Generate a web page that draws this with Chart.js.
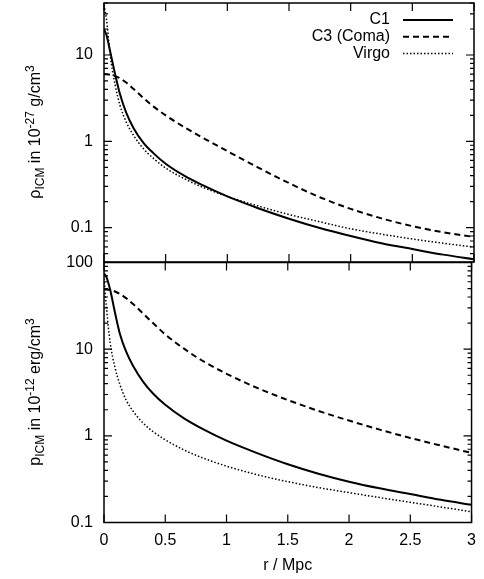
<!DOCTYPE html>
<html>
<head>
<meta charset="utf-8">
<script src="https://cdn.jsdelivr.net/npm/chart.js@4.4.1/dist/chart.umd.min.js"></script>
<style>
  body { margin: 0; background: #fff; }
  #wrap { position: relative; width: 484px; height: 579px; overflow: hidden; }
  canvas { position: absolute; left: 0; }
  #c_rho { top: 0; }
  #c_p { top: 250px; }
  .ytitle {
    position: absolute; left: 35px;
    transform: translate(-50%, -50%) rotate(-90deg);
    white-space: nowrap; color: #000;
    font: 16px 'Liberation Sans', Arial, sans-serif;
  }
  .ytitle sub, .ytitle sup { font-size: 12px; }
</style>
</head>
<body>
<div id="wrap">
  <canvas id="c_rho" width="484" height="266"></canvas>
  <canvas id="c_p" width="484" height="329"></canvas>
  <div class="ytitle" style="top:132px">ρ<sub>ICM</sub> in 10<sup>-27</sup> g/cm<sup>3</sup></div>
  <div class="ytitle" style="top:392px">p<sub>ICM</sub> in 10<sup>-12</sup> erg/cm<sup>3</sup></div>
</div>
<script>
// radius in Mpc
const radius = [0, 0.02, 0.05, 0.09, 0.13, 0.18, 0.24, 0.32, 0.4, 0.5, 0.65, 0.8, 1.0, 1.25, 1.5, 1.75, 2.0, 2.25, 2.5, 2.75, 3.0];

// density, 1e-27 g/cm^3
const rhoC1    = [20, 17, 11, 6.0, 3.5, 2.15, 1.42, 0.96, 0.73, 0.55, 0.40, 0.31, 0.23, 0.168, 0.127, 0.099, 0.080, 0.066, 0.0565, 0.0487, 0.043];
const rhoC3    = [6.0, 5.98, 5.9, 5.69, 5.37, 4.79, 4.03, 3.17, 2.54, 2.0, 1.46, 1.10, 0.77, 0.497, 0.328, 0.225, 0.165, 0.128, 0.104, 0.0885, 0.078];
const rhoVirgo = [38, 26, 10, 4.5, 2.6, 1.68, 1.17, 0.82, 0.635, 0.49, 0.37, 0.294, 0.23, 0.178, 0.142, 0.117, 0.097, 0.084, 0.074, 0.066, 0.0595];

// pressure, 1e-12 erg/cm^3
const pC1    = [75, 68, 48.7, 26.3, 15.0, 9.4, 6.3, 4.2, 3.08, 2.28, 1.6, 1.21, 0.88, 0.632, 0.47, 0.366, 0.296, 0.248, 0.213, 0.183, 0.16];
const pC3    = [49, 48.9, 48.2, 46.3, 43.4, 38.8, 32.9, 25.7, 20.0, 14.8, 10.2, 7.4, 5.2, 3.57, 2.59, 1.94, 1.50, 1.18, 0.945, 0.772, 0.635];
const pVirgo = [65, 30, 12, 6.1, 3.9, 2.6, 1.9, 1.4, 1.12, 0.9, 0.69, 0.56, 0.447, 0.356, 0.296, 0.253, 0.221, 0.194, 0.171, 0.151, 0.133];

const seriesNames = ['C1', 'C3 (Coma)', 'Virgo'];
const xTicks = [0, 0.5, 1, 1.5, 2, 2.5, 3];
const rhoTicks = [0.1, 1, 10];
const pTicks = [0.1, 1, 10, 100];

const lineDash = [[], [6, 4], [1.5, 2]];
const lineWidth = [2, 2, 1.5];

Chart.defaults.font.family = "'Liberation Sans', Arial, sans-serif";
Chart.defaults.font.size = 16;
Chart.defaults.color = '#000';

var makeSets = (arrays) => arrays.map((vals, i) => ({
  label: seriesNames[i],
  data: radius.map((r, k) => ({ x: r, y: vals[k] })),
  borderColor: '#000',
  borderWidth: lineWidth[i],
  borderDash: lineDash[i],
  pointRadius: 0,
  fill: false,
  cubicInterpolationMode: 'monotone'
}));

// gnuplot like frame with inward ticks
const framePlugin = {
  id: 'frame',
  afterDraw(chart, args, opts) {
    const { ctx, chartArea: a, scales } = chart;
    const xs = scales.x, ys = scales.y;
    ctx.save();
    ctx.strokeStyle = '#000';
    ctx.lineWidth = 1.2;
    ctx.beginPath();
    for (let v of xTicks) {
      const px = xs.getPixelForValue(v);
      ctx.moveTo(px, a.bottom); ctx.lineTo(px, a.bottom - 8);
      ctx.moveTo(px, a.top); ctx.lineTo(px, a.top + 8);
    }
    for (let v of opts.major) {
      const py = ys.getPixelForValue(v);
      ctx.moveTo(a.left, py); ctx.lineTo(a.left + 8, py);
      ctx.moveTo(a.right, py); ctx.lineTo(a.right - 8, py);
    }
    // minor ticks 2..9 in each decade
    for (let d = Math.floor(Math.log10(ys.min)); d < Math.ceil(Math.log10(ys.max)); d++) {
      for (let m = 2; m <= 9; m++) {
        const v = m * Math.pow(10, d);
        if (v < ys.min || v > ys.max) continue;
        const py = ys.getPixelForValue(v);
        ctx.moveTo(a.left, py); ctx.lineTo(a.left + 4, py);
        ctx.moveTo(a.right, py); ctx.lineTo(a.right - 4, py);
      }
    }
    ctx.stroke();
    ctx.lineWidth = 1.5;
    ctx.strokeRect(a.left, a.top, a.right - a.left, a.bottom - a.top);
    ctx.restore();
  }
};

// key in the top right corner, text left of the sample
const keyPlugin = {
  id: 'key',
  afterDraw(chart) {
    const { ctx, chartArea: a } = chart;
    ctx.save();
    ctx.font = "16px 'Liberation Sans', Arial, sans-serif";
    ctx.fillStyle = '#000';
    ctx.strokeStyle = '#000';
    ctx.textAlign = 'right';
    ctx.textBaseline = 'middle';
    chart.data.datasets.forEach((ds, i) => {
      const y = a.top + 17 + i * 16.7;
      ctx.fillText(ds.label, a.right - 84, y);
      ctx.lineWidth = ds.borderWidth;
      ctx.setLineDash(ds.borderDash);
      ctx.beginPath();
      ctx.moveTo(a.right - 71, y);
      ctx.lineTo(a.right - 21, y);
      ctx.stroke();
    });
    ctx.restore();
  }
};

var yScale = (min, max, ticks) => ({
  type: 'logarithmic',
  min: min,
  max: max,
  grid: { display: false, drawTicks: false },
  border: { display: false },
  ticks: { padding: 11, color: '#000', callback: (v) => String(v) },
  afterBuildTicks: (s) => { s.ticks = ticks.map(v => ({ value: v })); },
  afterFit: (s) => { s.width = 104; s.paddingTop = 0; s.paddingBottom = 0; }
});

new Chart(document.getElementById('c_rho'), {
  type: 'line',
  data: { datasets: makeSets([rhoC1, rhoC3, rhoVirgo]) },
  options: {
    responsive: false,
    animation: false,
    layout: { padding: { top: 3, right: 10, bottom: 4, left: 0 } },
    plugins: { legend: { display: false }, tooltip: { enabled: false }, frame: { major: rhoTicks } },
    scales: {
      x: { type: 'linear', min: 0, max: 3, display: false },
      y: yScale(0.04, 40, rhoTicks)
    }
  },
  plugins: [framePlugin, keyPlugin]
});

new Chart(document.getElementById('c_p'), {
  type: 'line',
  data: { datasets: makeSets([pC1, pC3, pVirgo]) },
  options: {
    responsive: false,
    animation: false,
    layout: { padding: { top: 12.5, right: 10, bottom: 0, left: 0 } },
    plugins: { legend: { display: false }, tooltip: { enabled: false }, frame: { major: pTicks } },
    scales: {
      x: {
        type: 'linear', min: 0, max: 3,
        grid: { display: false, drawTicks: false },
        border: { display: false },
        ticks: { padding: 8, color: '#000', maxRotation: 0, callback: (v) => String(v) },
        afterBuildTicks: (s) => { s.ticks = xTicks.map(v => ({ value: v })); },
        afterFit: (s) => { s.height = 56.5; },
        title: { display: true, text: 'r / Mpc', color: '#000', font: { size: 16 }, padding: { top: 4, bottom: 4 } }
      },
      y: yScale(0.1, 100, pTicks)
    }
  },
  plugins: [framePlugin]
});
</script>
</body>
</html>
